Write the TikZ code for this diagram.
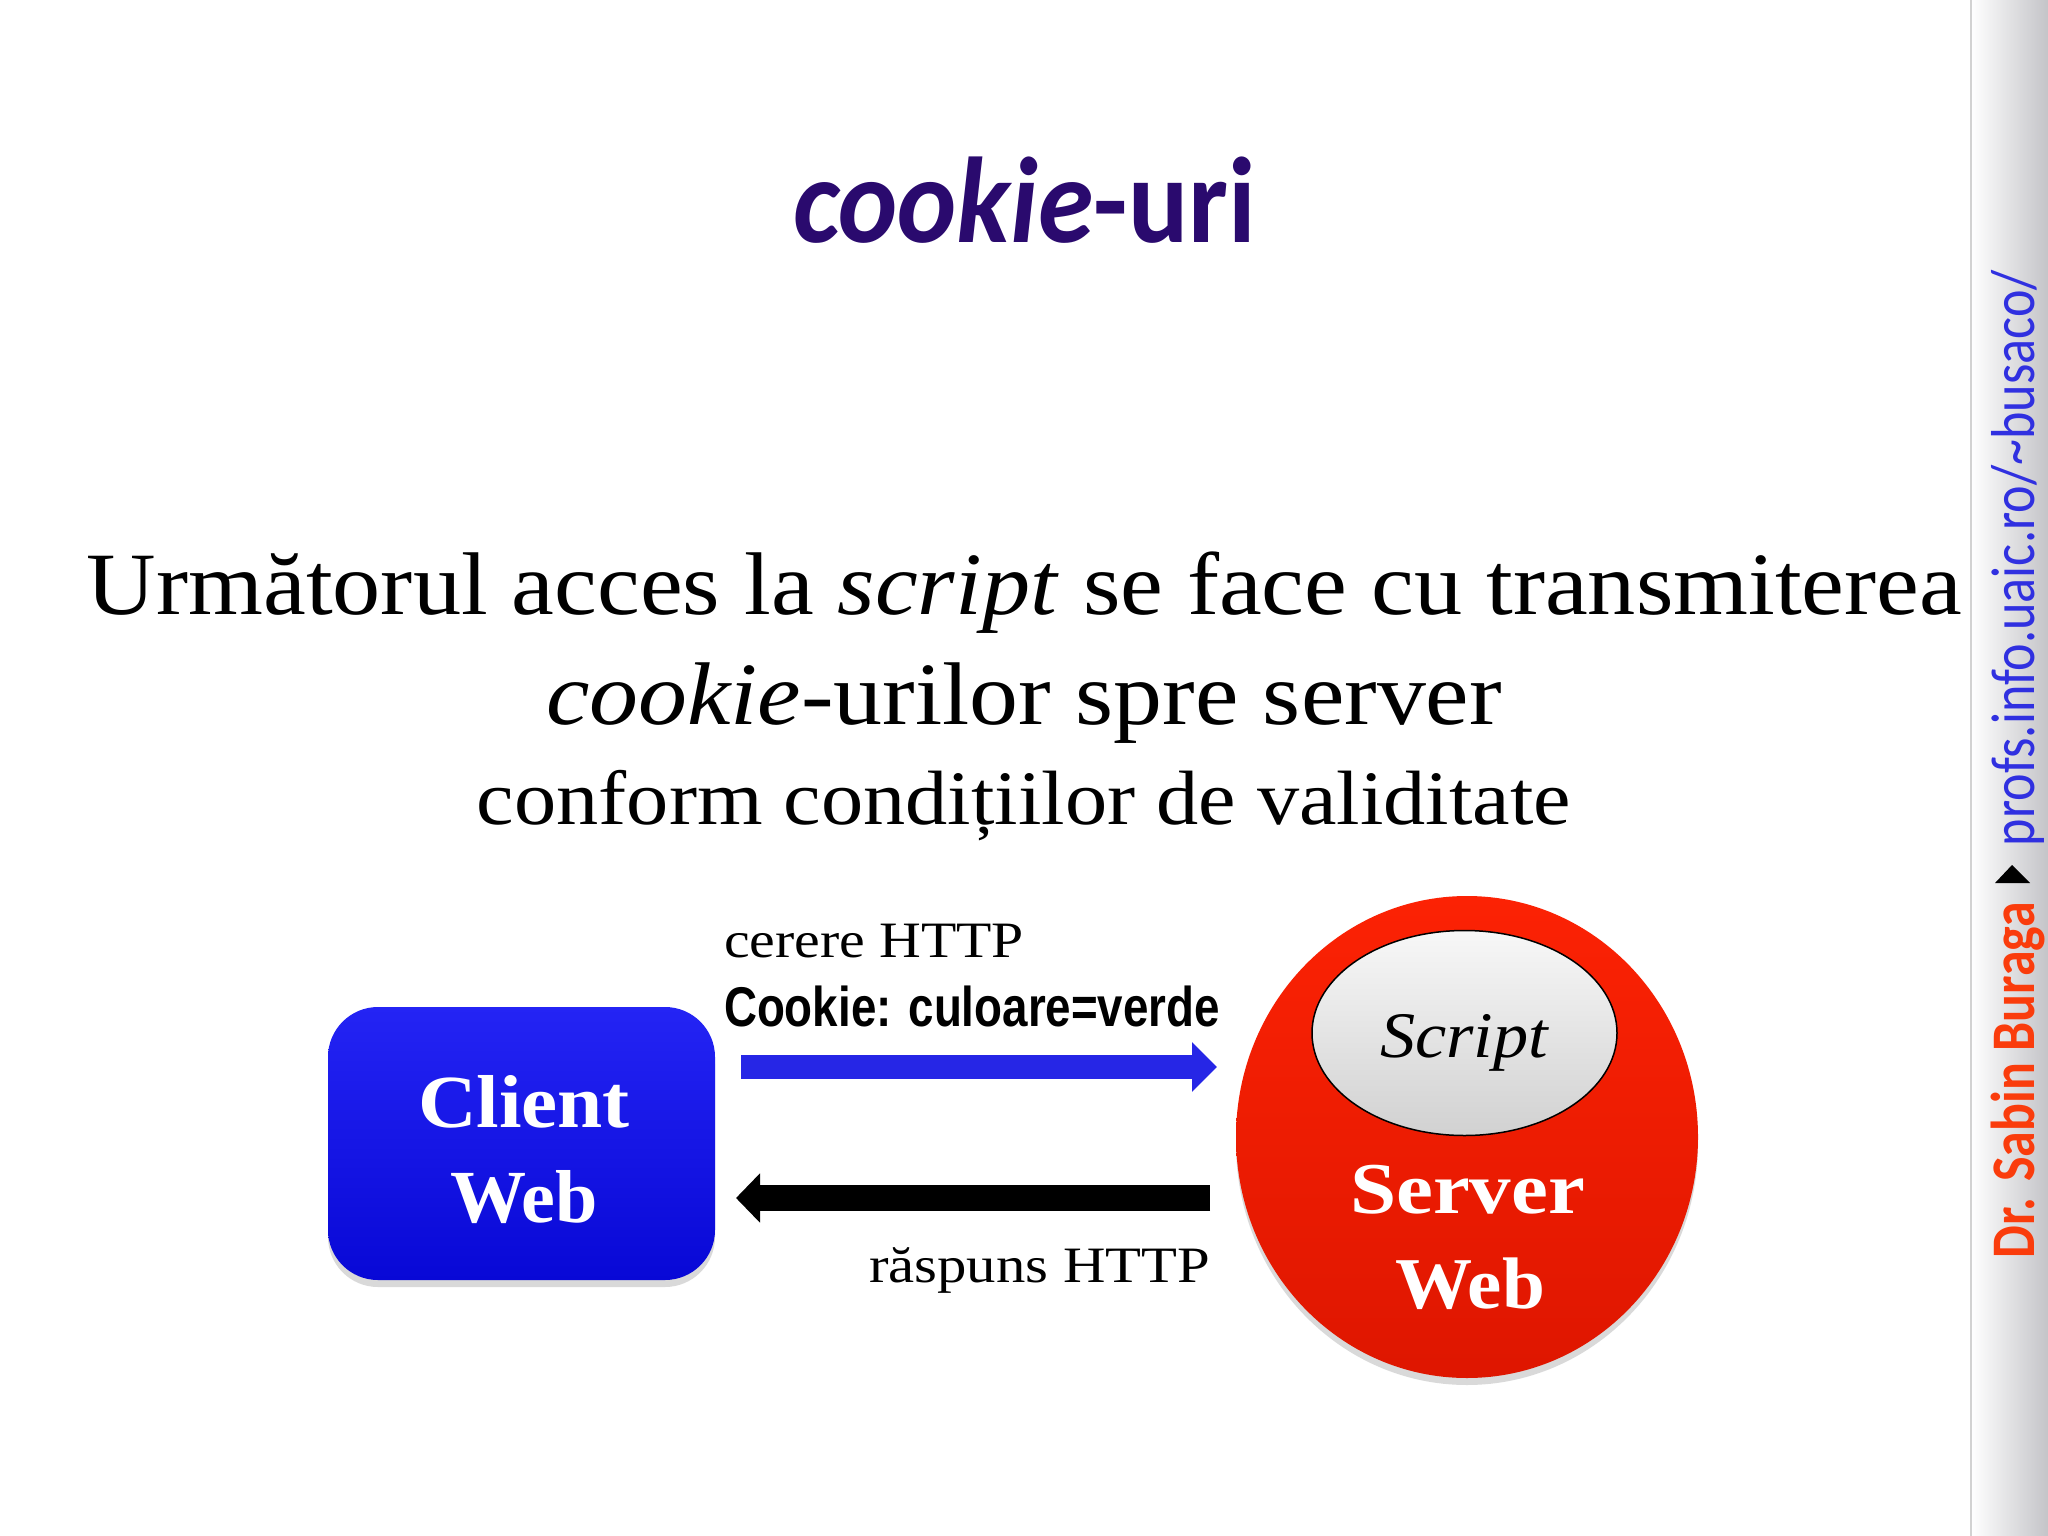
\documentclass[tikz,border=0pt]{standalone}
\usepackage{fontspec}
\usepackage{graphicx}
\setmainfont{Liberation Serif}
\newfontfamily\titlefont{Carlito}
\newfontfamily\sidefont{Carlito}
\newfontfamily\cookiefont{Liberation Sans}
\usetikzlibrary{arrows.meta,shadows,shapes.geometric}
\definecolor{titlecol}{RGB}{42,10,110}
\definecolor{clienttop}{RGB}{36,36,244}
\definecolor{clientbot}{RGB}{8,8,214}
\definecolor{servertop}{RGB}{252,34,4}
\definecolor{serverbot}{RGB}{222,22,0}
\definecolor{reqblue}{RGB}{38,38,230}
\definecolor{sideorange}{RGB}{250,60,12}
\definecolor{sideblue}{RGB}{48,48,224}
\definecolor{sidegray}{RGB}{196,196,200}
\newsavebox\fitbox
\newlength\fitlen
\newcommand\fitw[2]{\sbox\fitbox{#2}\setlength\fitlen{\wd\fitbox}\pgfmathsetmacro\fitsx{#1/\fitlen}\scalebox{\fitsx}[1]{\usebox\fitbox}}
\begin{document}
\begin{tikzpicture}[x=1pt,y=-1pt,
  lbl/.style={inner sep=0pt, outer sep=0pt, anchor=base},
  lblw/.style={inner sep=0pt, outer sep=0pt, anchor=base west},
  clientbox/.style={rectangle, rounded corners=50pt, minimum width=387pt, minimum height=273pt,
    top color=clienttop, bottom color=clientbot, draw=none,
    drop shadow={shadow xshift=0pt, shadow yshift=-7pt, opacity=0.15, fill=black}},
  serverbox/.style={ellipse, minimum width=462pt, minimum height=482pt, inner sep=0pt, draw=none,
    top color=servertop, bottom color=serverbot,
    drop shadow={shadow xshift=0pt, shadow yshift=-7pt, opacity=0.15, fill=black}},
  scriptbox/.style={ellipse, minimum width=305pt, minimum height=205pt, inner sep=0pt,
    draw=black, line width=1.5pt, top color=gray!6, bottom color=gray!36},
  reqarrow/.style={line width=24pt, draw=reqblue, -{Triangle[length=25pt,width=48pt]}},
  resparrow/.style={line width=26pt, draw=black, -{Triangle[length=24pt,width=48pt]}}
]
\useasboundingbox (0,0) rectangle (2048,1536);
\fill[white] (0,0) rectangle (2048,1536);
% sidebar
\shade[left color=white, right color=sidegray] (1971,0) rectangle (2048,1536);
\draw[gray!35, line width=2pt] (1971,0) -- (1971,1536);
\node[lblw, rotate=90, text=sideorange] (author) at (2034,1258)
  {\sidefont\bfseries\fontsize{62}{62}\selectfont\fitw{356}{Dr. Sabin Buraga}};
\fill[black] (2012,865) -- (1995,883) -- (2030,883) -- cycle;
\node[lblw, rotate=90, text=sideblue] (url) at (2034,846)
  {\sidefont\fontsize{62}{62}\selectfont\fitw{576}{profs.info.uaic.ro/\textasciitilde busaco/}};
% title
\node[lbl, text=titlecol] (title) at (1024.5,242)
  {\titlefont\bfseries\fontsize{122}{122}\selectfont\fitw{463}{\itshape cookie\upshape-uri}};
% body text
\node[lbl] (line1) at (1024.5,614)
  {\fontsize{89}{89}\selectfont\fitw{1875}{Următorul acces la \textit{script} se face cu transmiterea}};
\node[lbl] (line2) at (1024,724)
  {\fontsize{89}{89}\selectfont\fitw{956}{\textit{cookie}-urilor spre server}};
\node[lbl] (line3) at (1024,824)
  {\fontsize{77}{77}\selectfont\fitw{1094}{conform condițiilor de validitate}};
% client
\node[clientbox] (client) at (521.5,1143.5) {};
\node[lbl, text=white] (clientl1) at (524,1127)
  {\bfseries\fontsize{75}{75}\selectfont\fitw{212}{Client}};
\node[lbl, text=white] (clientl2) at (524,1222)
  {\bfseries\fontsize{75}{75}\selectfont\fitw{148}{Web}};
% server
\node[serverbox] (server) at (1467,1137) {};
\node[scriptbox] (script) at (1464.5,1033) {};
\node[lbl] (scriptl) at (1464,1057)
  {\itshape\fontsize{65}{65}\selectfont\fitw{168}{Script}};
\node[lbl, text=white] (serverl1) at (1467.5,1213)
  {\bfseries\fontsize{73}{73}\selectfont\fitw{235}{Server}};
\node[lbl, text=white] (serverl2) at (1470,1308)
  {\bfseries\fontsize{73}{73}\selectfont\fitw{150}{Web}};
% arrows
\coordinate (rq1) at (741,1067);
\coordinate (rq2) at (1217,1067);
\coordinate (rs1) at (1210,1198);
\coordinate (rs2) at (736,1198);
\draw[reqarrow] (rq1) -- (rq2);
\draw[resparrow] (rs1) -- (rs2);
% arrow labels
\node[lblw] (cerere) at (724,957)
  {\fontsize{51}{51}\selectfont\fitw{300}{cerere HTTP}};
\node[lblw] (cookie) at (724,1026)
  {\cookiefont\bfseries\fontsize{56}{56}\selectfont\fitw{496}{Cookie: culoare=verde}};
\node[lblw] (raspuns) at (869,1282)
  {\fontsize{51}{51}\selectfont\fitw{341}{răspuns HTTP}};
\end{tikzpicture}
\end{document}
